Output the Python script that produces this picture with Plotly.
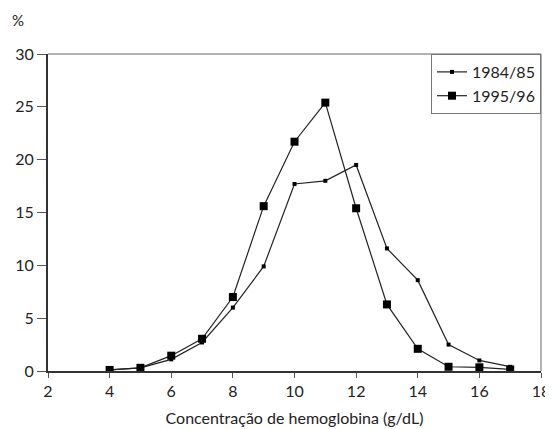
import plotly.graph_objects as go

hb = [4, 5, 6, 7, 8, 9, 10, 11, 12, 13, 14, 15, 16, 17]
pct_1984 = [0.1, 0.3, 1.1, 2.7, 6.0, 9.9, 17.7, 18.0, 19.5, 11.6, 8.6, 2.5, 1.0, 0.4]
pct_1995 = [0.1, 0.3, 1.45, 3.05, 7.0, 15.6, 21.7, 25.4, 15.4, 6.3, 2.1, 0.4, 0.35, 0.15]
x_ticks = [2, 4, 6, 8, 10, 12, 14, 16, 18]
y_ticks = [0, 5, 10, 15, 20, 25, 30]

FONT = "Lato, Open Sans, sans-serif"

fig = go.Figure()
fig.add_trace(go.Scatter(x=hb, y=pct_1984, name="1984/85", mode="lines+markers",
                         line=dict(color="#222222", width=1.2),
                         marker=dict(symbol="square", size=4, color="#000000")))
fig.add_trace(go.Scatter(x=hb, y=pct_1995, name="1995/96", mode="lines+markers",
                         line=dict(color="#222222", width=1.2),
                         marker=dict(symbol="square", size=8, color="#000000")))

fig.update_layout(
    width=545, height=421,
    margin=dict(l=40, r=12, t=46, b=58, autoexpand=False),
    paper_bgcolor="white", plot_bgcolor="white",
    font=dict(family=FONT, size=16, color="#222222"),
    showlegend=True,
    legend=dict(x=1.0, y=1.0, xanchor="right", yanchor="top",
                bgcolor="white", bordercolor="#777777", borderwidth=1,
                font=dict(size=16), tracegroupgap=0, itemwidth=30),
    xaxis=dict(range=[2, 18], tickvals=x_ticks, showgrid=False, zeroline=False,
               showline=True, linecolor="#333333", linewidth=2, automargin=False,
               ticks="outside", ticklen=5, tickcolor="#555555",
               title=dict(text="Concentração de hemoglobina (g/dL)", font=dict(size=16), standoff=14)),
    yaxis=dict(range=[0, 30], tickvals=y_ticks, showgrid=False, zeroline=False,
               showline=True, linecolor="#333333", linewidth=2, automargin=False,
               ticks="outside", ticklen=9, tickcolor="#555555"),
    shapes=[
        dict(type="line", xref="paper", yref="paper", x0=0, x1=1, y0=1, y1=1,
             line=dict(color="#666666", width=1), layer="below"),
        dict(type="line", xref="paper", yref="paper", x0=1, x1=1, y0=0, y1=1,
             line=dict(color="#666666", width=1), layer="below"),
    ],
    annotations=[dict(text="%", xref="paper", yref="paper", x=-0.061, y=1.107,
                      xanchor="center", yanchor="middle", showarrow=False,
                      font=dict(size=15))],
)

fig.write_html("out.html")
